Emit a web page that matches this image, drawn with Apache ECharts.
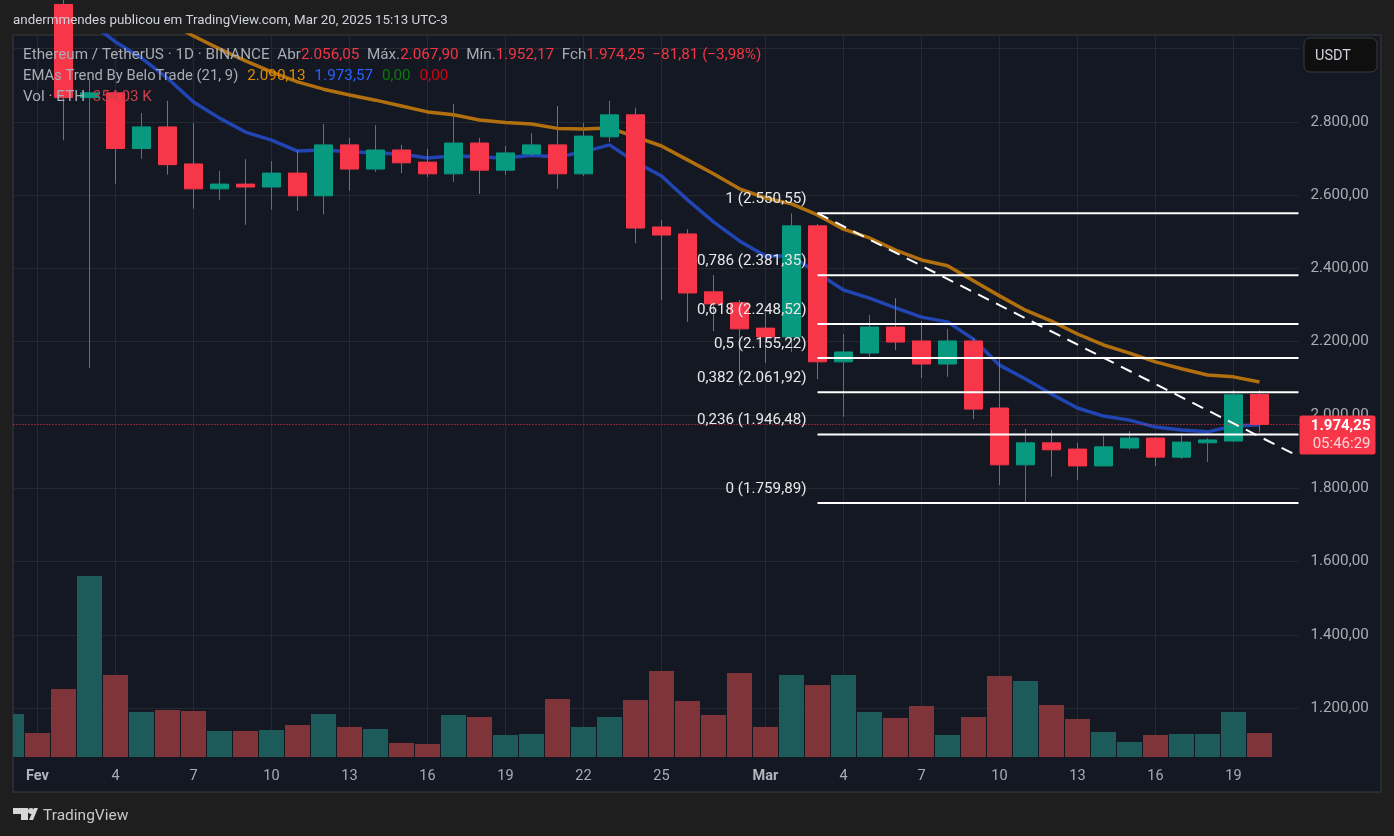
<!DOCTYPE html>
<html>
<head>
<meta charset="utf-8">
<title>ETH/USDT</title>
<script src="https://cdn.jsdelivr.net/npm/echarts@6/dist/echarts.min.js"></script>
<style>
  html, body { margin: 0; padding: 0; background: #1e1e1e; overflow: hidden; }
  /* canvas starts 20px left of the window, the first bar hangs past the pane edge */
  #chart { position: absolute; left: -20px; top: 0; width: 1414px; height: 836px; }
</style>
</head>
<body>
<div id="chart"></div>
<script>
// one entry per daily bar, the last category is the empty slot right of Mar 20
const days = ['31 Jan',
  '1 Fev','2 Fev','3 Fev','4 Fev','5 Fev','6 Fev','7 Fev','8 Fev','9 Fev','10 Fev','11 Fev','12 Fev','13 Fev','14 Fev',
  '15 Fev','16 Fev','17 Fev','18 Fev','19 Fev','20 Fev','21 Fev','22 Fev','23 Fev','24 Fev','25 Fev','26 Fev','27 Fev','28 Fev',
  '1 Mar','2 Mar','3 Mar','4 Mar','5 Mar','6 Mar','7 Mar','8 Mar','9 Mar','10 Mar','11 Mar','12 Mar','13 Mar','14 Mar',
  '15 Mar','16 Mar','17 Mar','18 Mar','19 Mar','20 Mar','21 Mar']

const opens = [3150,3300,3120,2866,2879,2727,2786,2685,2617,2630,2622,2660,2598,2737,2671,2723,2690,2658,2742,2668,2712,2737,2658,2759,2819,2513,2494,2336,2306,
  2237,2213,2516,2145,2169,2240,2202,2139,2202,2019,1864,1924,1907,1861,1910,1937,1885,1924,1929,2056.05]
const closes = [3200,3120,2866,2879,2727,2786,2683,2617,2630,2622,2660,2598,2737,2671,2723,2688,2658,2742,2668,2715,2737,2658,2761,2819,2510,2491,2333,2303,2235,
  2213,2516,2145,2172,2240,2199,2139,2202,2016,1864,1924,1905,1861,1913,1937,1885,1926,1932,2055,1974.25]
const lows = [3100,3100,2750,2128,2631,2699,2656,2563,2587,2519,2560,2557,2547,2612,2663,2660,2649,2636,2603,2655,2707,2617,2652,2745,2469,2314,2254,2229,2079,
  2142,2172,2098,1995,2158,2177,2101,2104,1989,1809,1760,1831,1823,1861,1905,1861,1880,1872,1926,1952.17]
const highs = [3250,3350,3150,2917,2882,2824,2857,2797,2666,2698,2693,2723,2794,2756,2791,2737,2726,2849,2756,2734,2769,2843,2797,2857,2838,2532,2507,2382,2314,
  2281,2550,2521,2221,2273,2319,2256,2235,2210,2153,1962,1959,1924,1943,1956,1940,1951,1937,2068,2067.9]

// EMA 21 and EMA 9
const emaSlow = [3280,3250,3220,3190,3150,3110,3072,3034,2999,2966,2936,2909,2889,2873,2859,2843,2827,2819,2805,2798,2794,2782,2780,2783,2759,2734,2696,2658,2617,
  2592,2576,2546,2507,2483,2450,2423,2407,2366,2325,2286,2256,2221,2191,2169,2145,2126,2109,2104,2090.13]
const emaFast = [3250,3220,3150,3072,3018,2974,2919,2854,2810,2772,2750,2720,2723,2718,2715,2712,2701,2707,2704,2701,2709,2704,2718,2737,2690,2652,2587,2527,2475,
  2434,2434,2387,2341,2319,2292,2267,2254,2207,2136,2098,2057,2019,1997,1986,1967,1959,1954,1970,1973.57]

// volume in thousands of ETH
const volumes = [634,354,1003,2670,1210,664,693,679,384,384,398,472,634,443,413,207,192,620,590,325,339,856,443,590,841,1269,826,620,1239,
  443,1210,1062,1210,664,575,752,325,590,1195,1121,767,561,369,221,325,339,339,664,354]

const fibRatios = ['1','0,786','0,618','0,5','0,382','0,236','0']
const fibPrices = [2550.55,2381.35,2248.52,2155.22,2061.92,1946.48,1759.89]
const fibStart = '3 Mar'

const trendDays = ['3 Mar','20 Mar']
const trendPrices = [2550.55,1941]

const priceTicks = [1200,1400,1600,1800,2000,2200,2400,2600,2800,3000]
const tickDays = ['1 Fev','4 Fev','7 Fev','10 Fev','13 Fev','16 Fev','19 Fev','22 Fev','25 Fev','1 Mar','4 Mar','7 Mar','10 Mar','13 Mar','16 Mar','19 Mar']
const tickTexts = ['Fev','4','7','10','13','16','19','22','25','Mar','4','7','10','13','16','19']

const lastPrice = 1974.25
const countdown = '05:46:29'

const FONT = 'Roboto, sans-serif'
const UP = '#089981'
const DOWN = '#f7364a'
const OFF = 20 // same as the css left of #chart

// 2800 -> 2.800,00
function fmt (v) {
  const [a, b] = v.toFixed(2).split('.')
  return a.replace(/\B(?=(\d{3})+$)/g, '.') + ',' + b
}

const chart = echarts.init(document.getElementById('chart'))

const option = {
  animation: false,
  backgroundColor: '#1e1e1e',
  textStyle: { fontFamily: FONT },
  grid: { left: OFF - 1.5, top: 35, width: 1300, height: 722, containLabel: false },
  xAxis: {
    type: 'category',
    data: days,
    axisLine: { show: false },
    axisTick: { show: false },
    splitLine: {
      show: true,
      alignWithLabel: true,
      interval: (i, name) => tickDays.includes(name),
      lineStyle: { color: '#252932', width: 1 }
    },
    axisLabel: {
      interval: 0,
      margin: 12,
      hideOverlap: false,
      fontSize: 14.5,
      color: '#a9acb4',
      fontFamily: FONT,
      formatter: name => {
        const i = tickDays.indexOf(name)
        if (i < 0) return ''
        const t = tickTexts[i]
        return isNaN(t) ? '{b|' + t + '}' : t
      },
      rich: { b: { fontWeight: 'bold', fontSize: 14.5, color: '#b2b5be', fontFamily: FONT } }
    }
  },
  yAxis: [
    {
      type: 'value',
      position: 'right',
      min: 1066.8,
      max: 3036.8,
      axisLine: { show: false },
      axisTick: { show: false, customValues: priceTicks },
      splitLine: { show: true, lineStyle: { color: '#252932', width: 1 } },
      axisLabel: {
        customValues: priceTicks,
        margin: 12,
        fontSize: 15.2,
        color: '#a9acb4',
        fontFamily: FONT,
        formatter: v => fmt(v)
      }
    },
    { type: 'value', show: false, min: 0, max: 10650, splitLine: { show: false } }
  ],
  graphic: {
    type: 'group',
    x: OFF,
    children: [
      // pane and frame
      { type: 'rect', z: -5, shape: { x: 13, y: 35, width: 1368, height: 757 },
        style: { fill: '#141823', stroke: '#2a2b2e', lineWidth: 2 } },
      // covers the part of the grid hanging past the left edge
      { type: 'rect', z: 100, shape: { x: -OFF, y: 0, width: OFF + 12, height: 836 }, style: { fill: '#1e1e1e' } },
      { type: 'rect', z: 100, shape: { x: 12, y: 34, width: 1, height: 758 }, style: { fill: '#2a2b2e' } },
      { type: 'text', z: 100, x: 13, y: 14, style: { text: 'andermmendes publicou em TradingView.com, Mar 20, 2025 15:13 UTC-3', fill: '#d1d4dc', font: '13.35px ' + FONT } },
      { type: 'rect', z: 50, shape: { x: 1304, y: 38, width: 73, height: 34, r: 6 }, style: { fill: '#0f0f0f', stroke: '#3a3b3e', lineWidth: 1 } },
      { type: 'text', z: 51, x: 1315, y: 49, style: { text: 'USDT', fill: '#d1d4dc', font: '14.5px ' + FONT } },
      {
        type: 'text', z: 60, x: 23, y: 48,
        style: {
          text: '{g|Ethereum / TetherUS · 1D · BINANCE  Abr}{r|2.056,05}{g|  Máx.}{r|2.067,90}{g|  Mín.}{r|1.952,17}{g|  Fch}{r|1.974,25  −81,81 (−3,98%)}',
          rich: {
            g: { fill: '#a9acb4', font: '15.25px ' + FONT },
            r: { fill: '#f23645', font: '15.25px ' + FONT }
          }
        }
      },
      {
        type: 'text', z: 60, x: 23, y: 67,
        style: {
          text: '{g|EMAs Trend By BeloTrade (21, 9)}{s|  }{o|2.090,13}{s|  }{b|1.973,57}{s|  }{v|0,00}{s|  }{x|0,00}',
          rich: {
            g: { fill: '#a9acb4', font: '14.8px ' + FONT },
            s: { font: '18px ' + FONT },
            o: { fill: '#e08a00', font: '15.25px ' + FONT },
            b: { fill: '#2962ff', font: '15.25px ' + FONT },
            v: { fill: '#0a7a0a', font: '15.25px ' + FONT },
            x: { fill: '#d80010', font: '15.25px ' + FONT }
          }
        }
      },
      {
        type: 'text', z: 60, x: 23, y: 90,
        style: {
          text: '{g|Vol · ETH  }{r|354,03 K}',
          rich: {
            g: { fill: '#a9acb4', font: '15.25px ' + FONT },
            r: { fill: '#c8404a', font: '15.25px ' + FONT }
          }
        }
      },
      // logo
      { type: 'polygon', z: 60, shape: { points: [[13, 808], [28, 808], [28, 820], [21, 820], [21, 814], [13, 814]] }, style: { fill: '#d8d8d8' } },
      { type: 'circle', z: 60, shape: { cx: 31, cy: 811, r: 3 }, style: { fill: '#d8d8d8' } },
      { type: 'polygon', z: 60, shape: { points: [[29, 820], [34, 808], [38, 808], [33, 820]] }, style: { fill: '#d8d8d8' } },
      { type: 'text', z: 60, x: 43, y: 808, style: { text: 'TradingView', fill: '#c8c8c8', font: '15.5px ' + FONT } }
    ]
  },
  series: [
    {
      name: 'Vol',
      type: 'bar',
      yAxisIndex: 1,
      z: 1,
      barWidth: 25,
      data: volumes.map((v, i) => ({
        value: v,
        itemStyle: { color: closes[i] >= opens[i] ? 'rgba(30,95,94,0.95)' : 'rgba(132,54,58,0.95)' }
      }))
    },
    {
      name: 'EMA 21',
      type: 'line',
      z: 2,
      showSymbol: false,
      data: emaSlow,
      lineStyle: { color: '#b26f0e', width: 3.5 }
    },
    {
      name: 'EMA 9',
      type: 'line',
      z: 2,
      showSymbol: false,
      data: emaFast,
      lineStyle: { color: '#2146b4', width: 3.5 }
    },
    {
      name: 'ETHUSDT',
      type: 'candlestick',
      z: 3,
      barWidth: 18,
      data: opens.map((o, i) => [o, closes[i], lows[i], highs[i]]),
      itemStyle: { color: UP, color0: DOWN, borderColor: UP, borderColor0: DOWN, borderWidth: 1 },
      markLine: {
        silent: true,
        symbol: 'none',
        label: { show: false },
        lineStyle: { color: DOWN, type: [1, 2], width: 1 },
        data: [{ yAxis: lastPrice }]
      }
    },
    {
      // fib levels, the lines run on to the right edge of the pane
      name: 'Fib',
      type: 'custom',
      z: 5,
      clip: false,
      data: fibPrices.map(p => [fibStart, p]),
      encode: { x: 0, y: 1 },
      renderItem: (params, api) => {
        const start = api.coord([days.indexOf(fibStart), fibPrices[params.dataIndex]])
        const right = params.coordSys.x + params.coordSys.width
        return {
          type: 'group',
          children: [
            { type: 'line', shape: { x1: start[0], y1: start[1], x2: right, y2: start[1] }, style: { stroke: '#fff', lineWidth: 2 } },
            {
              type: 'text', x: start[0] - 11, y: start[1] - 14,
              style: {
                text: fibRatios[params.dataIndex] + ' (' + fmt(fibPrices[params.dataIndex]) + ')',
                fill: '#e8e8e8', font: '15.2px ' + FONT, align: 'right', verticalAlign: 'middle'
              }
            }
          ]
        }
      }
    },
    {
      // trend line between two anchors, extended to the pane edge
      name: 'Trend',
      type: 'custom',
      z: 5,
      clip: false,
      data: [[trendDays[0], trendPrices[0]]],
      encode: { x: 0, y: 1 },
      renderItem: (params, api) => {
        const a = api.coord([days.indexOf(trendDays[0]), trendPrices[0]])
        const b = api.coord([days.indexOf(trendDays[1]), trendPrices[1]])
        const right = params.coordSys.x + params.coordSys.width
        const y2 = a[1] + (b[1] - a[1]) * (right - a[0]) / (b[0] - a[0])
        return {
          type: 'line',
          shape: { x1: a[0], y1: a[1], x2: right, y2: y2 },
          style: { stroke: '#fff', lineWidth: 2, lineDash: [12, 8] }
        }
      }
    },
    {
      // current price tag on the price scale
      name: 'Last',
      type: 'custom',
      z: 6,
      clip: false,
      data: [[days[days.length - 2], lastPrice]],
      encode: { x: 0, y: 1 },
      renderItem: (params, api) => {
        const y = api.coord([0, lastPrice])[1]
        const left = params.coordSys.x + params.coordSys.width + 1
        return {
          type: 'group',
          children: [
            { type: 'rect', shape: { x: left, y: y - 9, width: 76, height: 39, r: 2 }, style: { fill: DOWN } },
            { type: 'text', x: left + 71, y: y + 2, style: { text: fmt(lastPrice), fill: '#fff', font: 'bold 15px ' + FONT, align: 'right', verticalAlign: 'middle' } },
            { type: 'text', x: left + 71, y: y + 20, style: { text: countdown, fill: '#fbd5d9', font: '15px ' + FONT, align: 'right', verticalAlign: 'middle' } }
          ]
        }
      }
    }
  ]
}

chart.setOption(option)
</script>
</body>
</html>
